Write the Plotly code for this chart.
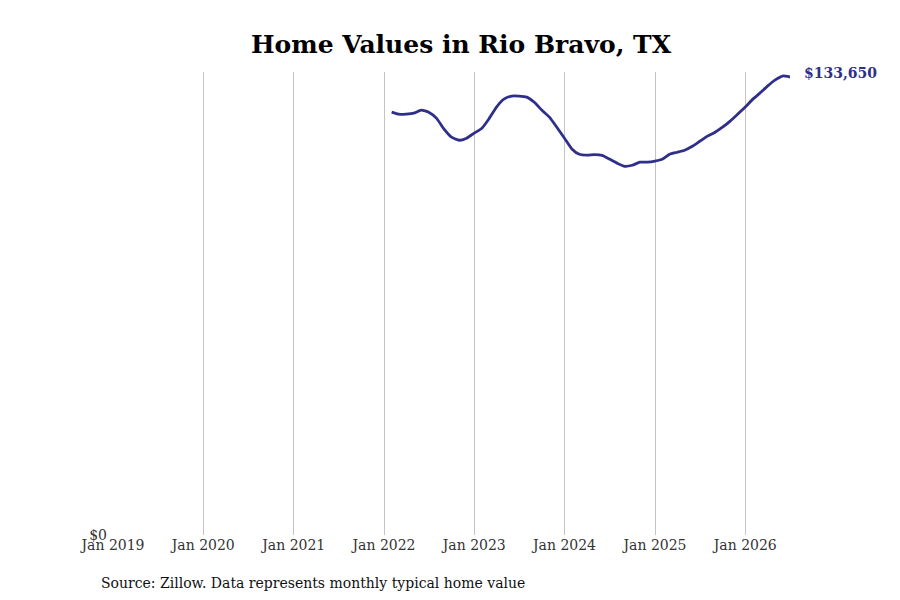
import plotly.graph_objects as go

# monthly typical home value, Feb 2022 .. Jul 2026
months = [
    "2022-02-01", "2022-03-01", "2022-04-01", "2022-05-01", "2022-06-01", "2022-07-01",
    "2022-08-01", "2022-09-01", "2022-10-01", "2022-11-01", "2022-12-01",
    "2023-01-01", "2023-02-01", "2023-03-01", "2023-04-01", "2023-05-01", "2023-06-01",
    "2023-07-01", "2023-08-01", "2023-09-01", "2023-10-01", "2023-11-01", "2023-12-01",
    "2024-01-01", "2024-02-01", "2024-03-01", "2024-04-01", "2024-05-01", "2024-06-01",
    "2024-07-01", "2024-08-01", "2024-09-01", "2024-10-01", "2024-11-01", "2024-12-01",
    "2025-01-01", "2025-02-01", "2025-03-01", "2025-04-01", "2025-05-01", "2025-06-01",
    "2025-07-01", "2025-08-01", "2025-09-01", "2025-10-01", "2025-11-01", "2025-12-01",
    "2026-01-01", "2026-02-01", "2026-03-01", "2026-04-01", "2026-05-01", "2026-06-01",
    "2026-07-01",
]
values = [
    123400, 122800, 122850, 123100, 124000, 123400,
    121650, 118450, 116100, 115200, 115800,
    117300, 118700, 121400, 124900, 127200, 128100,
    128100, 127800, 126300, 124000, 121950, 119000,
    115800, 112600, 111100, 110850, 111000, 110800,
    109700, 108500, 107600, 107900, 108800, 108800,
    109100, 109700, 111100, 111700, 112300, 113450,
    114900, 116400, 117550, 119000, 120800, 122800,
    124900, 127200, 128950, 131000, 132750, 133950,
    133650,
]

tick_vals = ["2019-01-01", "2020-01-01", "2021-01-01", "2022-01-01",
             "2023-01-01", "2024-01-01", "2025-01-01", "2026-01-01"]
tick_text = ["Jan 2019", "Jan 2020", "Jan 2021", "Jan 2022",
             "Jan 2023", "Jan 2024", "Jan 2025", "Jan 2026"]

LINE = "#2f2f8a"
FONT = "DejaVu Serif"

fig = go.Figure()
fig.add_trace(
    go.Scatter(
        x=months,
        y=values,
        mode="lines",
        line=dict(color=LINE, width=2.8, shape="spline", smoothing=0.5),
        hovertemplate="%{x|%b %Y}: $%{y:,.0f}<extra></extra>",
        showlegend=False,
    )
)

fig.add_annotation(
    x=months[-1], y=values[-1],
    text=f"<b>${values[-1]:,}</b>",
    showarrow=False, xanchor="left", yanchor="middle",
    xshift=12, yshift=4,
    font=dict(family=FONT, size=14, color=LINE),
)
fig.add_annotation(
    x=-0.0207, y=0, xref="paper", yref="paper",
    xanchor="left", yanchor="top", yshift=-38,
    text="Source: Zillow. Data represents monthly typical home value",
    showarrow=False,
    font=dict(family=FONT, size=14, color="#111"),
)

fig.update_layout(
    width=900, height=600,
    title=dict(
        text="<b>Home Values in Rio Bravo, TX</b>",
        x=453 / 900, xanchor="center", y=0.94, yanchor="middle",
        font=dict(family=FONT, size=25, color="#000"),
    ),
    paper_bgcolor="white",
    plot_bgcolor="white",
    margin=dict(l=105, r=118, t=64, b=73),
    font=dict(family=FONT, size=14, color="#333"),
    xaxis=dict(
        range=["2019-01-01", months[-1]],
        tickvals=tick_vals,
        ticktext=tick_text,
        showgrid=True,
        gridcolor="#c4c4c4",
        gridwidth=1,
        showline=False,
        zeroline=False,
        ticks="",
        tickfont=dict(family=FONT, size=14, color="#333"),
    ),
    yaxis=dict(
        range=[0, values[-1] * 1.011],
        tickvals=[0],
        ticktext=["$0"],
        showgrid=False,
        zeroline=False,
        showline=False,
        ticks="",
        ticklabelstandoff=5,
        tickfont=dict(family=FONT, size=14, color="#333"),
    ),
)

fig.write_html("out.html")
